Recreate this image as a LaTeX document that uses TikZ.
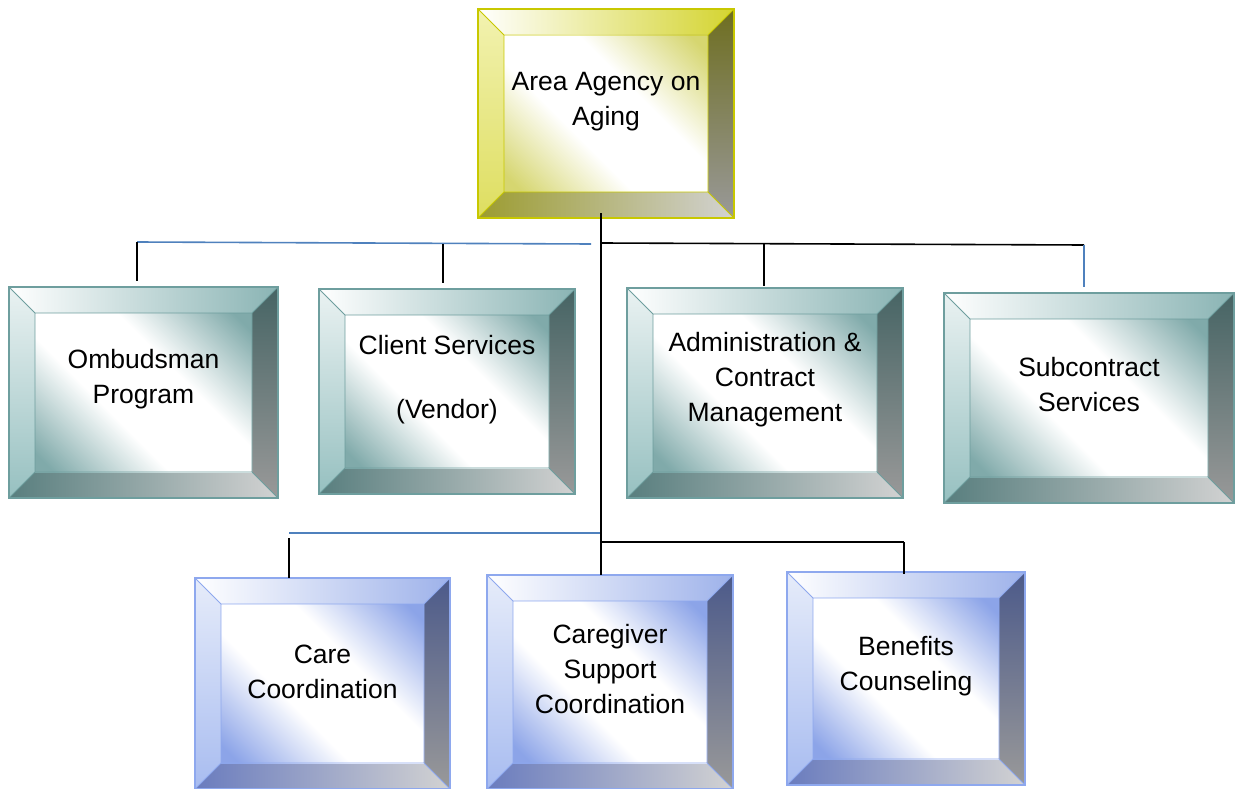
\documentclass[tikz,border=0pt]{standalone}
\usepackage{fontspec}
\setmainfont{Liberation Sans}
\usetikzlibrary{calc}
% palettes: y = yellow, t = teal, b = blue
\definecolor{yout}{HTML}{C8C800}
\definecolor{ytopr}{HTML}{D4D430}
\definecolor{yleftt}{HTML}{F2F2B0}
\definecolor{yleftb}{HTML}{DEDE60}
\definecolor{yrtop}{HTML}{6E6E20}
\definecolor{ybotl}{HTML}{9C9C30}
\definecolor{yin}{HTML}{D6D670}
\definecolor{tout}{HTML}{6E9E9E}
\definecolor{ttopr}{HTML}{8AB4B4}
\definecolor{tleftt}{HTML}{EAF2F2}
\definecolor{tleftb}{HTML}{96C0C0}
\definecolor{trtop}{HTML}{466464}
\definecolor{tbotl}{HTML}{587E7E}
\definecolor{tin}{HTML}{80AAAA}
\definecolor{bout}{HTML}{8EA8EE}
\definecolor{btopr}{HTML}{9EB2EA}
\definecolor{bleftt}{HTML}{E6ECFA}
\definecolor{bleftb}{HTML}{A8BCF0}
\definecolor{brtop}{HTML}{4C5A8A}
\definecolor{bbotl}{HTML}{6A7CBE}
\definecolor{bin}{HTML}{8CA4E8}
\definecolor{rgray}{HTML}{999999}
\definecolor{bgray}{HTML}{D2D2D2}
\definecolor{linkblue}{HTML}{4F81BD}
\pgfdeclareverticalshading{yinsh}{100bp}{color(0bp)=(yin); color(18bp)=(yin); color(40bp)=(white); color(60bp)=(white); color(82bp)=(yin); color(100bp)=(yin)}
\pgfdeclareverticalshading{tinsh}{100bp}{color(0bp)=(tin); color(18bp)=(tin); color(40bp)=(white); color(60bp)=(white); color(82bp)=(tin); color(100bp)=(tin)}
\pgfdeclareverticalshading{binsh}{100bp}{color(0bp)=(bin); color(18bp)=(bin); color(40bp)=(white); color(60bp)=(white); color(82bp)=(bin); color(100bp)=(bin)}
\tikzset{
  conn/.style={line width=1.6pt, black},
  bconn/.style={line width=1.6pt, linkblue},
  lbl/.style={font=\fontsize{26.5}{35}\selectfont, align=center, inner sep=0pt},
  boxnode/.style={inner sep=0pt, outer sep=0pt},
}
% #1 name, #2 x1, #3 y1, #4 x2, #5 y2, #6 palette, #7 label y, #8 text
\newcommand\bevelbox[8]{%
  \pgfmathsetmacro\bxa{#2}\pgfmathsetmacro\bya{#3}%
  \pgfmathsetmacro\bxb{#4}\pgfmathsetmacro\byb{#5}%
  \pgfmathsetmacro\ixa{#2+26}\pgfmathsetmacro\iya{#3+26}%
  \pgfmathsetmacro\ixb{#4-26}\pgfmathsetmacro\iyb{#5-26}%
  \shade[left color=white, right color=#6topr] (\bxa,\bya) -- (\bxb,\bya) -- (\ixb,\iya) -- (\ixa,\iya) -- cycle;
  \shade[top color=#6leftt, bottom color=#6leftb] (\bxa,\bya) -- (\ixa,\iya) -- (\ixa,\iyb) -- (\bxa,\byb) -- cycle;
  \shade[top color=#6rtop, bottom color=rgray] (\bxb,\bya) -- (\bxb,\byb) -- (\ixb,\iyb) -- (\ixb,\iya) -- cycle;
  \shade[left color=#6botl, right color=bgray] (\bxa,\byb) -- (\bxb,\byb) -- (\ixb,\iyb) -- (\ixa,\iyb) -- cycle;
  \shade[shading=#6insh, shading angle=-45] (\ixa,\iya) rectangle (\ixb,\iyb);
  \draw[#6out, line width=0.8pt] (\ixa,\iya) rectangle (\ixb,\iyb)
     (\bxa,\bya) -- (\ixa,\iya) (\bxb,\bya) -- (\ixb,\iya)
     (\bxa,\byb) -- (\ixa,\iyb) (\bxb,\byb) -- (\ixb,\iyb);
  \node[boxnode, draw=#6out, line width=1.2pt, minimum width={#4-#2}, minimum height={#5-#3}]
     (#1) at ({(#2+#4)/2},{(#3+#5)/2}) {};
  \node[lbl] (#1-t) at ({(#2+#4)/2},#7) {#8};
}
\begin{document}
\begin{tikzpicture}[x=1pt,y=-1pt]
\useasboundingbox (0,0) rectangle (1235,789);
% boxes
\bevelbox{aaa}{478}{9}{734}{218}{y}{102}{Area Agency on\\Aging}
\bevelbox{omb}{9}{287}{278}{498}{t}{379}{Ombudsman\\Program}
\bevelbox{cli}{319}{289}{575}{494}{t}{380}{Client Services\\[29pt](Vendor)}
\bevelbox{adm}{627}{288}{903}{498}{t}{380}{Administration \&\\Contract\\Management}
\bevelbox{sub}{944}{293}{1234}{503}{t}{385}{Subcontract\\Services}
\bevelbox{care}{195}{578}{450}{789}{b}{672}{Care\\Coordination}
\bevelbox{cg}{487}{575}{733}{789}{b}{669}{Caregiver\\Support\\Coordination}
\bevelbox{ben}{787}{572}{1025}{785}{b}{666}{Benefits\\Counseling}
% junction coordinates
\coordinate (ua) at (137,242);
\coordinate (ub) at (591,244);
\coordinate (uc) at (601,243);
\coordinate (ud) at (1084,245);
\coordinate (la) at (289,533);
\coordinate (lb) at (600,533);
\coordinate (lc) at (601,542);
\coordinate (ld) at (904,542);
\coordinate (mx) at (601,0);
% connectors
\draw[conn] ([yshift=5pt]aaa.south -| mx) -- (cg.north -| mx);
\draw[bconn] (ua) -- (ub);
\draw[conn] (uc) -- (ud);
\draw[conn] (ua) -- ([yshift=6pt]omb.north -| ua);
\draw[conn] (443,244) -- ([yshift=6pt]cli.north -| 443,0);
\draw[conn] (764,244) -- ([yshift=2pt]adm.north -| 764,0);
\draw[bconn] (ud) -- ([yshift=6pt]sub.north -| ud);
\draw[bconn] (la) -- (lb);
\draw[conn] (lc) -- (ld);
\draw[conn] (289,538) -- (care.north -| la);
\draw[conn] (ld) -- ([yshift=-2pt]ben.north -| ld);
\end{tikzpicture}
\end{document}
